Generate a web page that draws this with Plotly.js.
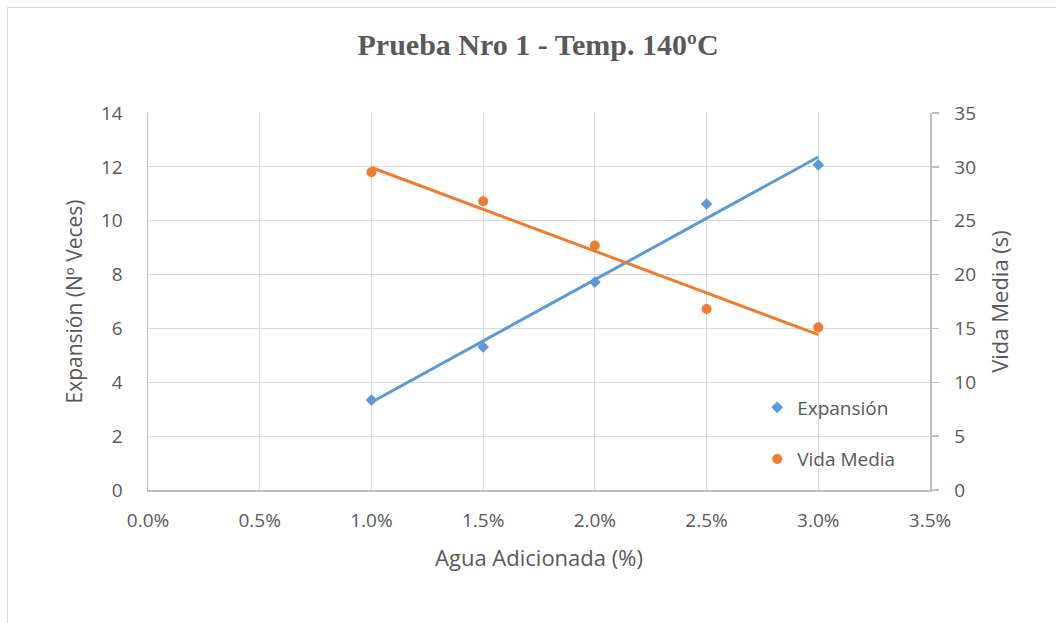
<!DOCTYPE html>
<html>
<head>
<meta charset="utf-8">
<script src="https://cdn.plot.ly/plotly-3.0.1.min.js"></script>
<style>
html,body{margin:0;padding:0;background:#fff;overflow:hidden;}
#frame{position:absolute;left:7px;top:7px;width:1200px;height:800px;border-left:1px solid #d9d9d9;border-top:1px solid #d9d9d9;}
#chart{position:absolute;left:0;top:0;width:1056px;height:623px;}
</style>
</head>
<body>
<div id="frame"></div>
<div id="chart"></div>
<script>
// Data
const aguaAdicionada = [0.010, 0.015, 0.020, 0.025, 0.030];
const expansion = [3.34, 5.31, 7.72, 10.62, 12.07];
const vidaMedia = [29.5, 26.8, 22.7, 16.8, 15.1];

function linFit(xs, ys) {
  const n = xs.length;
  const mx = xs.reduce((a, b) => a + b, 0) / n;
  const my = ys.reduce((a, b) => a + b, 0) / n;
  let sxy = 0, sxx = 0;
  for (let i = 0; i < n; i++) { sxy += (xs[i] - mx) * (ys[i] - my); sxx += (xs[i] - mx) ** 2; }
  const m = sxy / sxx, b = my - m * mx;
  const x0 = Math.min(...xs), x1 = Math.max(...xs);
  return { x: [x0, x1], y: [m * x0 + b, m * x1 + b] };
}
const fitE = linFit(aguaAdicionada, expansion);
const fitV = linFit(aguaAdicionada, vidaMedia);

const blue = '#5B9BD5', orange = '#ED7D31';
const txt = '#595959';
const font = '"Open Sans", sans-serif';

const traces = [
  { x: fitE.x, y: fitE.y, mode: 'lines', line: { color: blue, width: 3 }, showlegend: false, hoverinfo: 'skip', yaxis: 'y' },
  { x: fitV.x, y: fitV.y, mode: 'lines', line: { color: orange, width: 3 }, showlegend: false, hoverinfo: 'skip', yaxis: 'y2' },
  { x: aguaAdicionada, y: expansion, name: 'Expansión', mode: 'markers', marker: { symbol: 'diamond', size: 9, color: blue }, yaxis: 'y', legendgroup: 'a' },
  { x: aguaAdicionada, y: vidaMedia, name: 'Vida Media', mode: 'markers', marker: { symbol: 'circle', size: 10, color: orange }, yaxis: 'y2', legendgroup: 'b' }
];

const layout = {
  width: 1056, height: 623,
  margin: { l: 148, r: 126, t: 113, b: 133 },
  paper_bgcolor: 'rgba(0,0,0,0)', plot_bgcolor: '#fff',
  font: { family: font, color: txt, size: 19 },
  title: { text: 'Prueba Nro 1 - Temp. 140ºC', font: { family: '"Liberation Serif", "Times New Roman", serif', size: 30, color: txt, weight: 'bold' }, x: 0.5095, xanchor: 'center', y: 0.928, yanchor: 'middle' },
  xaxis: {
    range: [0, 0.035], dtick: 0.005, tick0: 0, tickformat: '.1%',
    showgrid: true, gridcolor: '#d9d9d9', gridwidth: 1,
    showline: true, linecolor: '#bfbfbf', linewidth: 1.5, zeroline: false,
    ticks: '', ticklabelstandoff: 13,
    tickfont: { size: 19, color: txt },
    title: { text: 'Agua Adicionada (%)', font: { size: 22, color: txt }, standoff: 18 }
  },
  yaxis: {
    range: [0, 14], dtick: 2, tick0: 0,
    showgrid: true, gridcolor: '#d9d9d9', gridwidth: 1,
    showline: true, linecolor: '#bfbfbf', linewidth: 1.5, zeroline: false,
    ticks: '', ticklabelstandoff: 20,
    tickfont: { size: 19, color: txt },
    title: { text: 'Expansión (Nº Veces)', font: { size: 21, color: txt }, standoff: 12 }
  },
  yaxis2: {
    range: [0, 35], dtick: 5, tick0: 0, overlaying: 'y', side: 'right',
    showgrid: false, showline: true, linecolor: '#bfbfbf', linewidth: 1.5, zeroline: false,
    ticks: 'outside', ticklen: 7, tickcolor: '#bfbfbf', tickwidth: 1.5, ticklabelstandoff: 12,
    tickfont: { size: 19, color: txt },
    title: { text: 'Vida Media (s)', font: { size: 22, color: txt }, standoff: 17 }
  },
  legend: {
    x: 0.779, y: 0.15, xanchor: 'left', yanchor: 'middle',
    bgcolor: 'rgba(0,0,0,0)', font: { size: 19, color: txt },
    traceorder: 'grouped', tracegroupgap: 24, itemwidth: 30
  },
  showlegend: true
};

Plotly.newPlot('chart', traces, layout, { staticPlot: true, displayModeBar: false });
</script>
</body>
</html>
